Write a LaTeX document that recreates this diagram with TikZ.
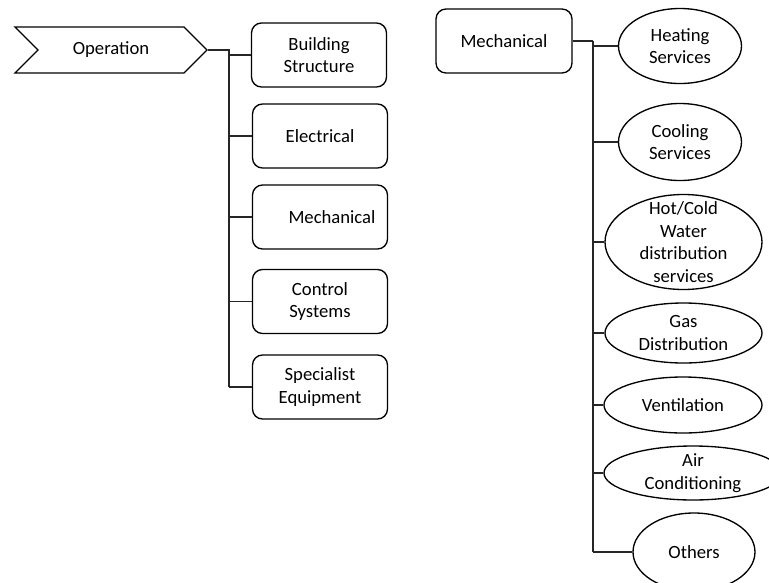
\documentclass[tikz,border=0pt]{standalone}
\usepackage{fontspec}
\setmainfont{Carlito}
\usetikzlibrary{shapes.symbols,shapes.geometric}
\begin{document}
\begin{tikzpicture}[x=0.75pt,y=-0.75pt,
  every node/.style={font=\fontsize{14}{16.9}\selectfont, align=center, inner sep=0pt},
  outline/.style={draw=black, line width=1pt},
  box/.style={outline, rectangle, rounded corners=7.5pt, minimum width=101.25pt, minimum height=48pt},
  oval/.style={outline, ellipse},
  tag/.style={outline, signal, signal to=east, signal from=west, signal pointer angle=90,
              minimum width=144pt, minimum height=34.5pt},
  link/.style={draw=black!85, line width=0.8pt},
  trunk/.style={draw=black!85, line width=1.4pt}]
\useasboundingbox (0,0) rectangle (769,583);
\clip (0,0) rectangle (769,583);

% left tree: Operation and its five parts
\node[tag] (op) at (111,50) {Operation};
\node[box] (bs) at (319,55)  {Building\\Structure};
\node[box] (el) at (320,136) {Electrical};
\node[box, label={[xshift=9pt]center:Mechanical}] (me) at (320,217) {};
\node[box] (cs) at (320,301.5) {Control\\Systems};
\node[box] (se) at (320,387) {Specialist\\Equipment};

\coordinate (tl) at (229,50);
\draw[link] (op.east) -- (tl) -- (tl |- se.west);
\foreach \n in {bs,el,me,cs,se}
  \draw[link] (tl |- \n.west) -- (\n.west);

% right tree: Mechanical services
\node[box, minimum width=102pt] (mech) at (504,41) {Mechanical};
\node[oval, minimum width=92.25pt, minimum height=56.25pt] (hs) at (680,46) {};
\node at (hs.center) {Heating\\Services};
\node[oval, minimum width=92.25pt, minimum height=57.75pt] (cl) at (680,142) {};
\node at (cl.center) {Cooling\\Services};
\node[oval, minimum width=117.75pt, minimum height=71.25pt] (hw) at (683.5,242) {};
\node at (hw.center) {Hot/Cold\\Water\\distribution\\services};
\node[oval, minimum width=117.75pt, minimum height=45pt] (gd) at (683.5,333) {};
\node at (gd.center) {Gas\\Distribution};
\node[oval, minimum width=118.5pt, minimum height=42pt] (vt) at (683,405) {};
\node at (vt.center) {Ventilation};
\node[oval, minimum width=133.5pt, minimum height=40.5pt] (ac) at (693,473) {};
\node at (ac.center) {Air\\Conditioning};
\node[oval, minimum width=91.5pt, minimum height=58.5pt] (ot) at (694,552) {};
\node at (ot.center) {Others};

\coordinate (tr) at (593,41);
\draw[link] (mech.east) -- (tr);
\draw[trunk] (tr) -- (tr |- vt.west);
\draw[link] (tr |- vt.west) -- (tr |- ot.west);
\foreach \n in {hs,cl,hw,gd,vt,ac,ot}
  \draw[link] (tr |- \n.west) -- (\n.west);
\end{tikzpicture}
\end{document}
